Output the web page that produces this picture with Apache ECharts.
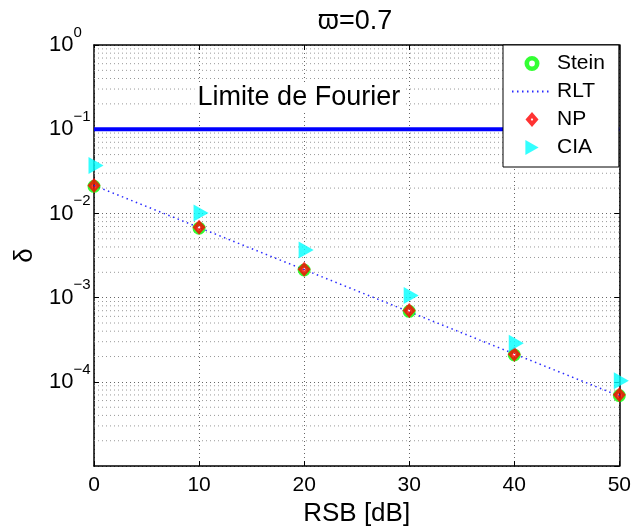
<!DOCTYPE html>
<html><head><meta charset="utf-8">
<script src="https://cdn.jsdelivr.net/npm/echarts@6/dist/echarts.min.js"></script>
<style>html,body{margin:0;padding:0;background:#fff}#c{width:634px;height:532px}</style>
</head><body><div id="c"></div>
<script>
// ---- data ----
const snr = [0, 10, 20, 30, 40, 50];
const stein = [0.0210, 0.00668, 0.00213, 0.000688, 0.000209, 0.0000688];
const rlt   = [0.0215, 0.00680, 0.00215, 0.000680, 0.000215, 0.0000680];
const np    = [0.0215, 0.00684, 0.00218, 0.000703, 0.000213, 0.0000703];
const cia   = [0.0370, 0.0101, 0.00367, 0.00106, 0.000288, 0.000103];
const fourierLimit = 0.1;
const fourierText = 'Limite de Fourier';
const fourierTextPos = [19.5, 0.24];
const xTicks = [0, 10, 20, 30, 40, 50];
const yMin = 1e-5, yMax = 1;
const titleText = 'ϖ=0.7';
const xName = 'RSB [dB]';
const yName = 'δ';
const legendNames = ['Stein', 'RLT', 'NP', 'CIA'];

const FF = "'Liberation Sans', Arial, Helvetica, sans-serif";
const pts = ys => snr.map((x, i) => [x, ys[i]]);

// marker shapes (thick-edged hollow markers as in MATLAB)
const ringPath = 'path://M0,6.5A6.5,6.5 0 0,1 13,6.5A6.5,6.5 0 0,1 0,6.5Z' +
                 'M4,6.5A2.5,2.5 0 0,0 9,6.5A2.5,2.5 0 0,0 4,6.5Z';
const diamondPath = 'path://M6.5,0L13,7.5L6.5,15L0,7.5ZM6.5,6L5.3,7.5L6.5,9L7.7,7.5Z';
const triPath = 'path://M0,0L15,8.5L0,17Z';

// minor log grid lines (2..9 x 10^k), drawn as broken line segments
const minorGridData = [];
for (let e = -5; e < 0; e++) for (let m = 2; m <= 9; m++) {
  const v = m * Math.pow(10, e);
  minorGridData.push([0, v], [50, v], [50, '-']);
}

const chart = echarts.init(document.getElementById('c'), null, { renderer: 'canvas' });
const gridLine = { show: true, lineStyle: { color: '#666', type: [1, 3], width: 1 } };

chart.setOption({
  animation: false,
  backgroundColor: '#fff',
  title: {
    text: titleText, left: 350, top: 3, textAlign: 'center',
    textStyle: { fontSize: 27, fontWeight: 'normal', color: '#000', fontFamily: FF }
  },
  grid: { left: 94, right: 13, top: 45, bottom: 62, containLabel: false },
  legend: {
    orient: 'vertical', left: 503, top: 45,
    padding: [8, 14, 9, 8], itemGap: 7, itemWidth: 40, itemHeight: 15,
    backgroundColor: '#fff', borderColor: '#000', borderWidth: 1,
    textStyle: { fontSize: 21, color: '#000', fontFamily: FF },
    data: [
      { name: 'Stein', icon: ringPath },
      { name: 'RLT', itemStyle: { opacity: 0 } },
      { name: 'NP', icon: diamondPath },
      { name: 'CIA', icon: triPath }
    ],
    z: 20
  },
  xAxis: [{
    type: 'value', min: 0, max: 50, interval: 10, position: 'bottom',
    name: xName, nameLocation: 'middle', nameGap: 33,
    nameTextStyle: { fontSize: 26, color: '#000', fontFamily: FF },
    axisLine: { show: true, onZero: false, lineStyle: { color: '#000', width: 1.5 } },
    axisTick: { show: true, inside: true, length: 5, lineStyle: { color: '#000' } },
    axisLabel: { fontSize: 21, color: '#000', fontFamily: FF, margin: 9 },
    splitLine: gridLine
  }, {
    type: 'value', min: 0, max: 50, interval: 10, position: 'top',
    axisLine: { show: true, onZero: false, lineStyle: { color: '#000', width: 1.5 } },
    axisTick: { show: true, inside: true, length: 5, lineStyle: { color: '#000' } },
    axisLabel: { show: false }, splitLine: { show: false }
  }],
  yAxis: [{
    type: 'log', logBase: 10, min: yMin, max: yMax, splitNumber: 5, position: 'left',
    name: yName, nameLocation: 'middle', nameGap: 52, nameRotate: 90,
    nameTextStyle: { fontSize: 26, color: '#000', fontFamily: FF },
    axisLine: { show: true, onZero: false, lineStyle: { color: '#000', width: 1.5 } },
    axisTick: { show: true, inside: true, length: 5, lineStyle: { color: '#000' } },
    axisLabel: {
      showMinLabel: false, align: 'left', margin: 45,
      formatter: v => {
        const e = Math.round(Math.log10(v));
        return '{b|10}{s|' + (e < 0 ? '\u2212' + (-e) : String(e)) + '}';
      },
      rich: {
        b: { fontSize: 22, lineHeight: 40, color: '#000', fontFamily: FF },
        s: { fontSize: 15, lineHeight: 15, verticalAlign: 'top', color: '#000', fontFamily: FF }
      }
    },
    splitLine: gridLine
  }, {
    type: 'log', logBase: 10, min: yMin, max: yMax, splitNumber: 5, position: 'right',
    axisLine: { show: true, onZero: false, lineStyle: { color: '#000', width: 1.5 } },
    axisTick: { show: true, inside: true, length: 5, lineStyle: { color: '#000' } },
    axisLabel: { show: false }, splitLine: { show: false }
  }],
  series: [
    {
      name: 'minorGrid', type: 'line', z: 1, silent: true, data: minorGridData,
      symbol: 'none', connectNulls: false,
      lineStyle: { color: '#999', type: [1, 3], width: 1 }
    },
    {
      name: 'Fourier', type: 'line', z: 2, silent: true,
      data: [[0, fourierLimit], [50, fourierLimit]],
      symbol: 'none', lineStyle: { color: '#0000ff', width: 4 },
      markPoint: {
        silent: true, symbol: 'rect', symbolSize: 0,
        label: {
          show: true, position: 'inside', formatter: fourierText,
          fontSize: 27, color: '#000', fontFamily: FF,
          backgroundColor: '#fff', padding: [1, 3]
        },
        data: [{ coord: fourierTextPos }]
      }
    },
    {
      name: 'RLT', type: 'line', z: 3, data: pts(rlt), symbol: 'none',
      lineStyle: { color: '#2a2aff', width: 1.5, type: [1.5, 3.5] },
      itemStyle: { color: '#2a2aff' }
    },
    {
      name: 'Stein', type: 'scatter', z: 4, data: pts(stein),
      symbol: ringPath, symbolSize: [13, 13],
      itemStyle: { color: '#00ff00' }
    },
    {
      name: 'NP', type: 'scatter', z: 5, data: pts(np),
      symbol: diamondPath, symbolSize: [13, 15],
      itemStyle: { color: '#ff0000' }
    },
    {
      name: 'CIA', type: 'scatter', z: 6, data: pts(cia),
      symbol: triPath, symbolSize: [15, 17], symbolOffset: [2, 0],
      itemStyle: { color: '#00ffff' }
    }
  ]
});
</script></body></html>
